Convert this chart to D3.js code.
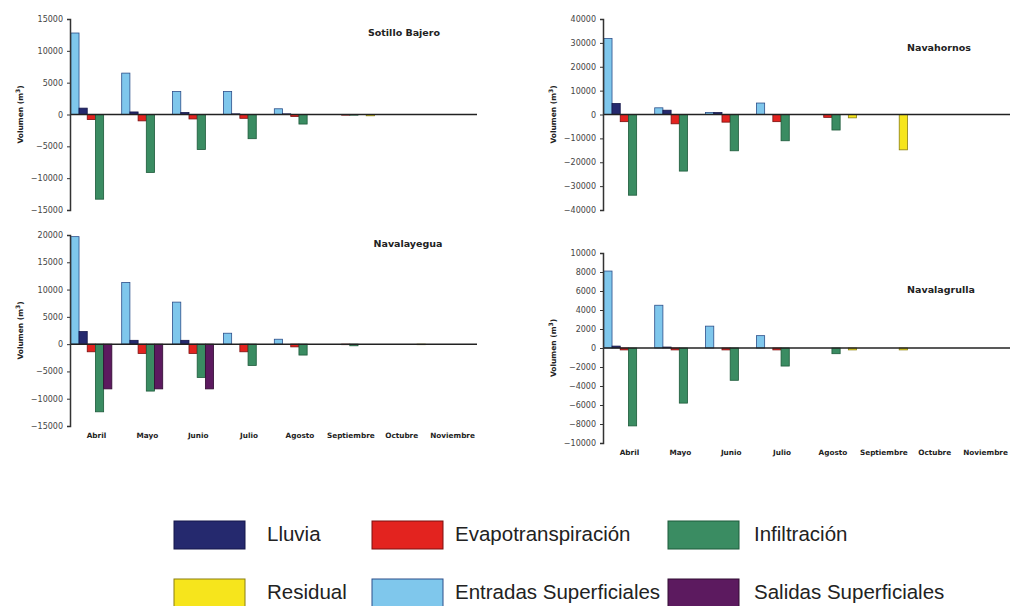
<!DOCTYPE html>
<html>
<head>
<meta charset="utf-8">
<script src="https://cdn.jsdelivr.net/npm/d3@7"></script>
<style>
  body { margin: 0; background: #fff; }
  svg { display: block; font-family: "Liberation Sans", Arial, sans-serif; }
  .tick text { fill: #444; font-family: "DejaVu Sans", sans-serif; }
  .lbl { font-family: "DejaVu Sans", sans-serif; font-weight: bold; fill: #222; }
</style>
</head>
<body>
<svg id="chart" width="1012" height="606"></svg>
<script>
// months and series
var months = ["Abril", "Mayo", "Junio", "Julio", "Agosto", "Septiembre", "Octubre", "Noviembre"];
var seriesNames = ["Entradas Superficiales", "Lluvia", "Evapotranspiración", "Infiltración", "Salidas Superficiales", "Residual"];
var seriesColors = ["#7fc7ec", "#25296e", "#e3231f", "#3a8c62", "#5c1a5f", "#f6e51c"];
var seriesStroke = ["#2c4f8a", "#15174a", "#7a1010", "#1d5a3a", "#300c32", "#8a7f10"];

// Sotillo Bajero (m3), order Abril..Noviembre
var sotilloEntradas = [12800, 6500, 3600, 3600, 900, 0, 0, 0];
var sotilloLluvia = [1000, 400, 300, 100, 100, 0, 0, 0];
var sotilloEvap = [-800, -1000, -700, -600, -300, -100, 0, 0];
var sotilloInfil = [-13300, -9100, -5500, -3800, -1500, -100, 0, 0];
var sotilloSalidas = [0, 0, 0, 0, 0, 0, 0, 0];
var sotilloResidual = [0, 0, 0, 0, 0, -200, 0, 0];

// Navahornos
var navahornosEntradas = [31800, 2800, 800, 4800, 0, 0, 0, 0];
var navahornosLluvia = [4600, 1800, 800, 0, 0, 0, 0, 0];
var navahornosEvap = [-3000, -3900, -3200, -3000, -1200, 0, 0, 0];
var navahornosInfil = [-33800, -23700, -15200, -11000, -6500, 0, 0, 0];
var navahornosSalidas = [0, 0, 0, 0, 0, 0, 0, 0];
var navahornosResidual = [0, 0, 0, 0, -1400, -14800, 0, 0];

// Navalayegua
var navalayeguaEntradas = [19700, 11300, 7700, 2000, 900, 0, 0, 0];
var navalayeguaLluvia = [2300, 700, 700, 0, 0, 0, 0, 0];
var navalayeguaEvap = [-1400, -1700, -1700, -1400, -500, -100, 0, 0];
var navalayeguaInfil = [-12400, -8600, -6100, -3900, -2000, -300, 0, 0];
var navalayeguaSalidas = [-8200, -8200, -8200, 0, 0, 0, 0, 0];
var navalayeguaResidual = [0, 0, 0, 0, 0, 0, -100, 0];

// Navalagrulla
var navalagrullaEntradas = [8100, 4500, 2300, 1300, 0, 0, 0, 0];
var navalagrullaLluvia = [200, 100, 0, 0, 0, 0, 0, 0];
var navalagrullaEvap = [-200, -200, -200, -200, 0, 0, 0, 0];
var navalagrullaInfil = [-8200, -5800, -3400, -1900, -600, 0, 0, 0];
var navalagrullaSalidas = [0, 0, 0, 0, 0, 0, 0, 0];
var navalagrullaResidual = [0, 0, 0, 0, -200, -200, 0, 0];

var svg = d3.select("#chart");

var panels = [
  {name: "Sotillo Bajero", x0: 70, x1: 477, top: 19, bottom: 210, dom: [-15000, 15000], step: 5000,
   series: [sotilloEntradas, sotilloLluvia, sotilloEvap, sotilloInfil, sotilloSalidas, sotilloResidual],
   tx: 404, ty: 36, months: false},
  {name: "Navahornos", x0: 603, x1: 1010, top: 19, bottom: 210, dom: [-40000, 40000], step: 10000,
   series: [navahornosEntradas, navahornosLluvia, navahornosEvap, navahornosInfil, navahornosSalidas, navahornosResidual],
   tx: 939, ty: 51, months: false},
  {name: "Navalayegua", x0: 70, x1: 477, top: 235, bottom: 426, dom: [-15000, 20000], step: 5000,
   series: [navalayeguaEntradas, navalayeguaLluvia, navalayeguaEvap, navalayeguaInfil, navalayeguaSalidas, navalayeguaResidual],
   tx: 408, ty: 247, months: true},
  {name: "Navalagrulla", x0: 603, x1: 1010, top: 253, bottom: 443, dom: [-10000, 10000], step: 2000,
   series: [navalagrullaEntradas, navalagrullaLluvia, navalagrullaEvap, navalagrullaInfil, navalagrullaSalidas, navalagrullaResidual],
   tx: 941, ty: 293, months: true}
];

panels.forEach(function(p){
  var g = svg.append("g");
  var x = d3.scaleBand().domain(months).range([p.x0, p.x1]).paddingInner(0);
  var xs = d3.scaleBand().domain(d3.range(seriesNames.length)).range([0, x.bandwidth()]).paddingOuter(0.1);
  var y = d3.scaleLinear().domain(p.dom).range([p.bottom, p.top]);

  var rows = [];
  p.series.forEach(function(vals, si){
    vals.forEach(function(v, mi){
      if (v !== 0) rows.push({s: si, m: months[mi], v: v});
    });
  });

  g.selectAll("rect.bar")
    .data(rows)
    .enter().append("rect")
    .attr("class", "bar")
    .attr("x", function(d){ return x(d.m) + xs(d.s); })
    .attr("width", xs.bandwidth())
    .attr("y", function(d){ return Math.min(y(d.v), y(0)); })
    .attr("height", function(d){ return Math.abs(y(d.v) - y(0)); })
    .attr("fill", function(d){ return seriesColors[d.s]; })
    .attr("stroke", function(d){ return seriesStroke[d.s]; })
    .attr("stroke-width", 0.8);

  // zero line
  g.append("line")
    .attr("x1", p.x0).attr("x2", p.x1)
    .attr("y1", y(0)).attr("y2", y(0))
    .attr("stroke", "#222").attr("stroke-width", 1.5);

  var ax = g.append("g")
    .attr("transform", "translate(" + p.x0 + ",0)")
    .call(d3.axisLeft(y).tickValues(d3.range(p.dom[0], p.dom[1] + 1, p.step)).tickSize(3).tickPadding(4).tickFormat(d3.format("d")));
  ax.select(".domain").attr("stroke", "#333").attr("stroke-width", 1.5);
  ax.selectAll(".tick line").attr("stroke", "#333");
  ax.selectAll(".tick text").style("font-size", "8px");

  g.append("text")
    .attr("class", "lbl")
    .attr("transform", "translate(" + (p.x0 - 47) + "," + ((p.top + p.bottom) / 2) + ") rotate(-90)")
    .attr("text-anchor", "middle")
    .style("font-size", "7.5px")
    .html('Volumen (m<tspan dy="-3" font-size="6px">3</tspan><tspan dy="3">)</tspan>');

  g.append("text")
    .attr("class", "lbl")
    .attr("x", p.tx).attr("y", p.ty)
    .attr("text-anchor", "middle")
    .style("font-size", "9.5px")
    .text(p.name);

  if (p.months) {
    g.selectAll("text.month")
      .data(months)
      .enter().append("text")
      .attr("class", "month lbl")
      .attr("x", function(d){ return x(d) + x.bandwidth() / 2 + 1; })
      .attr("y", p.bottom + 12)
      .attr("text-anchor", "middle")
      .style("font-size", "7.3px")
      .text(function(d){ return d; });
  }
});

// legend
var legendOrder = [1, 2, 3, 5, 0, 4];
var legCols = [174, 372, 668];
var legTextOff = [93, 83, 86];
var legY = d3.scalePoint().domain([0, 1]).range([535, 593]);
var leg = svg.append("g").selectAll("g")
  .data(legendOrder)
  .enter().append("g")
  .attr("transform", function(d, i){ return "translate(" + legCols[i % 3] + "," + legY(Math.floor(i / 3)) + ")"; });
leg.append("rect")
  .attr("x", 0).attr("y", -14).attr("width", 71).attr("height", 28)
  .attr("fill", function(d){ return seriesColors[d]; })
  .attr("stroke", function(d){ return seriesStroke[d]; })
  .attr("stroke-width", 1);
leg.append("text")
  .attr("x", function(d, i){ return legTextOff[i % 3]; })
  .attr("y", 6)
  .style("font-size", "20.5px").attr("fill", "#222")
  .text(function(d){ return seriesNames[d]; });
</script>
</body>
</html>
